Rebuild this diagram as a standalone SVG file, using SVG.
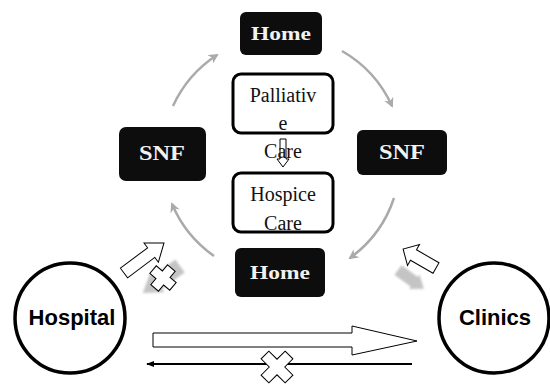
<svg xmlns="http://www.w3.org/2000/svg" width="550" height="385" viewBox="0 0 550 385">
<style>
.dark{fill:#0d0d0d;}
.dt{font-family:"Liberation Serif",serif;font-weight:bold;fill:#f2f2f2;text-anchor:middle;}
.wb{fill:#fff;stroke:#000;stroke-width:3;}
.st{font-family:"Liberation Serif",serif;font-size:20px;fill:#111;text-anchor:middle;}
.circ{fill:#fff;stroke:#000;stroke-width:3.5;}
.ct{font-family:"Liberation Sans",Arial,sans-serif;font-weight:bold;font-size:22px;fill:#000;text-anchor:middle;}
.arc{fill:none;stroke:#aaa;stroke-width:2.5;marker-end:url(#ga);}
.hol{fill:#fff;stroke:#000;stroke-width:1;}
.gr{fill:#c4c4c4;stroke:none;filter:url(#bl);}
</style>
<defs>
<marker id="ga" viewBox="0 0 10 10" refX="8" refY="5" markerWidth="4" markerHeight="4" orient="auto" markerUnits="strokeWidth">
<path d="M0,0 L10,5 L0,10 L3,5 Z" fill="#aaa"/>
</marker>
<marker id="ba" viewBox="0 0 10 10" refX="9" refY="5" markerWidth="4" markerHeight="4" orient="auto" markerUnits="strokeWidth">
<path d="M0,1 L10,5 L0,9 Z" fill="#000"/>
</marker>
<filter id="bl" x="-20%" y="-20%" width="140%" height="140%"><feGaussianBlur stdDeviation="1"/></filter>
</defs>

<g id="connectors">
<path class="arc" d="M173,106 A121,121 0 0 1 217,55"/>
<path class="arc" d="M342,51 A121,121 0 0 1 392,106"/>
<path class="arc" d="M394,198 A121,121 0 0 1 350,258"/>
<path class="arc" d="M214,256 A121,121 0 0 1 172,204"/>
<polygon class="hol" points="280,139 286,139 286,159 289,159 283,167 277,159 280,159"/>
<polygon class="gr" transform="translate(180,266) rotate(144)" points="0,-8 28,-8 28,-12 46,0 28,12 28,8 0,8"/>
<polygon class="hol" transform="translate(124,273) rotate(-36.9)" points="0,-6 34,-6 34,-12 50,0 34,12 34,6 0,6"/>
<polygon class="hol" transform="translate(163,278) rotate(40)" points="-5,-13 5,-13 5,-5 13,-5 13,5 5,5 5,13 -5,13 -5,5 -13,5 -13,-5 -5,-5"/>
<polygon class="gr" transform="translate(398,270) rotate(36)" points="0,-6 20,-6 20,-9 32,0 20,9 20,6 0,6"/>
<polygon class="hol" transform="translate(436,268) rotate(210)" points="0,-6 26,-6 26,-12 38,0 26,12 26,6 0,6"/>
<polygon class="hol" points="153,333 352,333 352,326 417,341 352,355 352,347 153,347"/>
<line x1="412" y1="364" x2="147" y2="364" stroke="#000" stroke-width="2" marker-end="url(#ba)"/>
<polygon class="hol" transform="translate(277,367) rotate(45)" points="-5.5,-17 5.5,-17 5.5,-5.5 17,-5.5 17,5.5 5.5,5.5 5.5,17 -5.5,17 -5.5,5.5 -17,5.5 -17,-5.5 -5.5,-5.5"/>
</g>

<g id="home-top">
<rect class="dark" x="240" y="12" width="82" height="43" rx="6"/>
<text class="dt" x="281" y="40" font-size="19" textLength="60" lengthAdjust="spacingAndGlyphs">Home</text>
</g>
<g id="snf-left">
<rect class="dark" x="119" y="127" width="87" height="54" rx="7"/>
<text class="dt" x="162" y="160" font-size="20" textLength="46" lengthAdjust="spacingAndGlyphs">SNF</text>
</g>
<g id="snf-right">
<rect class="dark" x="357" y="130" width="90" height="45" rx="6"/>
<text class="dt" x="402" y="159" font-size="20" textLength="46" lengthAdjust="spacingAndGlyphs">SNF</text>
</g>
<g id="home-bottom">
<rect class="dark" x="235" y="248" width="90" height="49" rx="6"/>
<text class="dt" x="280" y="279" font-size="19" textLength="60" lengthAdjust="spacingAndGlyphs">Home</text>
</g>
<g id="palliative-care">
<rect class="wb" x="233" y="74" width="100" height="59" rx="8"/>
<text class="st" x="283" y="102">Palliativ</text>
<text class="st" x="283" y="130">e</text>
<text class="st" x="283" y="158">Care</text>
</g>
<g id="hospice-care">
<rect class="wb" x="233" y="173" width="100" height="59" rx="8"/>
<text class="st" x="283" y="201">Hospice</text>
<text class="st" x="283" y="230">Care</text>
</g>
<g id="hospital">
<circle class="circ" cx="70" cy="318" r="55"/>
<text class="ct" x="72" y="325">Hospital</text>
</g>
<g id="clinics">
<circle class="circ" cx="494" cy="318" r="55"/>
<text class="ct" x="495" y="325">Clinics</text>
</g>
</svg>
